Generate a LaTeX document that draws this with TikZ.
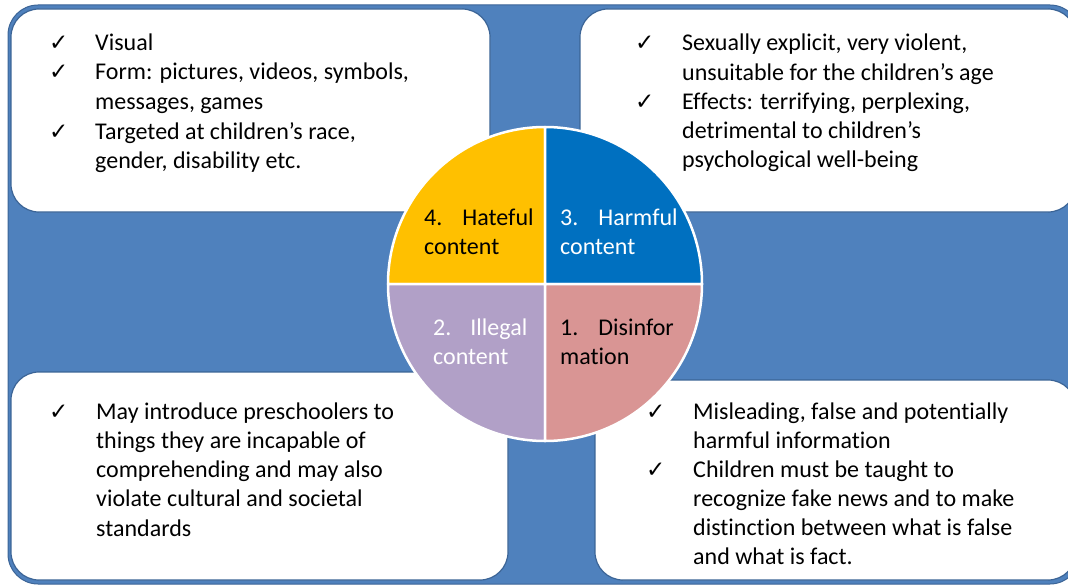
\documentclass[tikz,border=0pt]{standalone}
\usepackage{fontspec}
\setmainfont{Carlito}[Ligatures={NoCommon,NoContextual}]
\newfontfamily\symfont{DejaVu Sans}
\definecolor{bgblue}{HTML}{4F81BD}
\definecolor{edgeblue}{HTML}{3B6496}
\definecolor{qyellow}{HTML}{FFC000}
\definecolor{qblue}{HTML}{0070C0}
\definecolor{qpurple}{HTML}{B1A0C7}
\definecolor{qpink}{HTML}{D99594}
\newcommand\stk[1]{\begin{tabular}[t]{@{}l@{}}#1\end{tabular}}
\begin{document}
\begin{tikzpicture}[x=1pt,y=-1pt,
  panel/.style={fill=white, draw=edgeblue, line width=1.2pt, rounded corners=28pt},
  itemtext/.style={anchor=base west, inner sep=0pt,
    font=\fontsize{24}{29.3}\selectfont, text=black},
  tick/.style={anchor=base west, inner sep=0pt, font=\symfont\fontsize{23}{24}\selectfont},
  qlabel/.style={anchor=base west, inner sep=0pt,
    font=\fontsize{24}{29.5}\selectfont},
  sector/.style={draw=white, line width=2.5pt, line join=round}]
\useasboundingbox (0,0) rectangle (1068,586);
\clip (0,0) rectangle (1068,586);
% background
\fill[bgblue, draw=edgeblue, line width=1pt, rounded corners=30pt] (8,5) rectangle (1080,584);
% panels
\draw[panel] (11,9) rectangle (490,212);
\draw[panel] (580,9) rectangle (1076,212);
\draw[panel] (11,372) rectangle (508,580);
\draw[panel] (595,380) rectangle (1076,580);
% circle quadrants
\coordinate (c) at (545,284);
\filldraw[sector, fill=qyellow] (c) -- ++(-157,0) arc[start angle=180, end angle=90, radius=157pt] -- cycle;
\filldraw[sector, fill=qblue] (c) -- ++(0,-157) arc[start angle=90, end angle=0, radius=157pt] -- cycle;
\filldraw[sector, fill=qpurple] (c) -- ++(-157,0) arc[start angle=180, end angle=270, radius=157pt] -- cycle;
\filldraw[sector, fill=qpink] (c) -- ++(0,157) arc[start angle=270, end angle=360, radius=157pt] -- cycle;
% quadrant labels
\node[qlabel, text=black] (q4) at (424,225) {\stk{4.\hspace{20pt}Hateful\\content}};
\node[qlabel, text=white] (q3) at (560,225) {\stk{3.\hspace{20pt}Harmful\\content}};
\node[qlabel, text=white] (q2) at (433,335) {\stk{2.\hspace{19pt}Illegal\\content}};
\node[qlabel, text=black] (q1) at (560,335) {\stk{1.\hspace{20pt}Disinfor\\mation}};
% top-left panel
\node[tick] (tl1c) at (49,51) {✓};
\node[itemtext] (tl1) at (95,51) {Visual};
\node[tick] (tl2c) at (49,80) {✓};
\node[itemtext] (tl2) at (95,80) {\stk{Form: pictures, videos, symbols,\\messages, games}};
\node[tick] (tl3c) at (49,139) {✓};
\node[itemtext] (tl3) at (95,139) {\stk{Targeted at children’s race,\\gender, disability etc.}};
% top-right panel
\node[tick] (tr1c) at (635,51) {✓};
\node[itemtext] (tr1) at (682,51) {\stk{Sexually explicit, very violent,\\unsuitable for the children’s age}};
\node[tick] (tr2c) at (635,109) {✓};
\node[itemtext] (tr2) at (682,109) {\stk{Effects: terrifying, perplexing,\\detrimental to children’s\\psychological well-being}};
% bottom-left panel
\node[tick] (bl1c) at (49,419) {✓};
\node[itemtext] (bl1) at (96,419) {\stk{May introduce preschoolers to\\things they are incapable of\\comprehending and may also\\violate cultural and societal\\standards}};
% bottom-right panel
\node[tick] (br1c) at (646,419) {✓};
\node[itemtext] (br1) at (693,419) {\stk{Misleading, false and potentially\\harmful information}};
\node[tick] (br2c) at (646,477) {✓};
\node[itemtext] (br2) at (693,477) {\stk{Children must be taught to\\recognize fake news and to make\\distinction between what is false\\and what is fact.}};
\end{tikzpicture}
\end{document}
